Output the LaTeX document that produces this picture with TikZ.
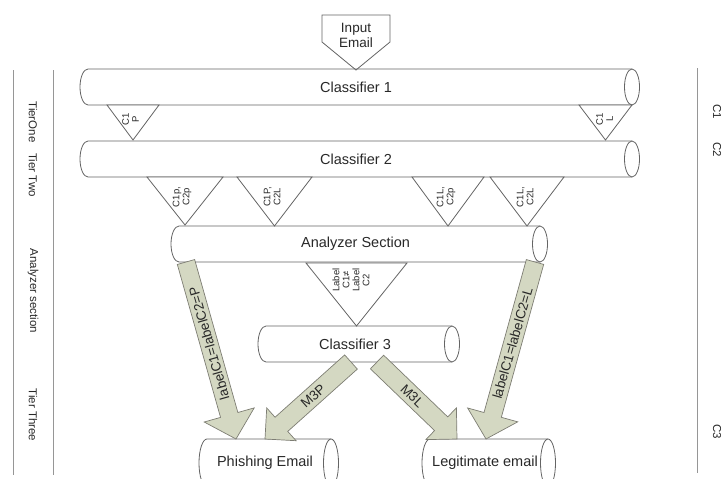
\documentclass[tikz,border=0pt]{standalone}
\usepackage{fontspec}
\setmainfont{Liberation Sans}
\usetikzlibrary{calc}

\definecolor{edge}{RGB}{100,100,100}
\definecolor{arrowfill}{RGB}{212,216,194}
\definecolor{arrowedge}{RGB}{125,125,115}
\definecolor{rulegray}{RGB}{150,150,150}
\definecolor{inkgray}{RGB}{40,40,40}

\tikzset{
  shapeline/.style={draw=edge, line width=0.8pt},
  cyltext/.style={font=\fontsize{14.5}{16}\selectfont, text=inkgray, inner sep=0pt},
  tritext/.style={font=\fontsize{9.5}{10}\selectfont, text=inkgray, rotate=90, align=center, inner sep=0pt},
  tiertext/.style={font=\fontsize{11.5}{13}\selectfont, text=inkgray, rotate=-90, inner sep=0pt},
  blockarrow/.style={draw=arrowedge, line width=0.7pt, fill=arrowfill, line join=miter},
  arrowtext/.style={font=\fontsize{13.5}{15}\selectfont, text=inkgray, inner sep=0pt},
  tierrule/.style={draw=rulegray, line width=0.8pt},
}

% horizontal cylinder: name, left x, x of the front ellipse, centre y, half height, text
% corner coordinates name-nw, name-ne, name-sw, name-se mark the body's straight edges
\newcommand\cylpart[6]{%
  \draw[shapeline] (#3,#4-#5) -- (#2+8,#4-#5)
    .. controls (#2+3.6,#4-#5) and (#2,#4-0.55*#5) .. (#2,#4)
    .. controls (#2,#4+0.55*#5) and (#2+3.6,#4+#5) .. (#2+8,#4+#5) -- (#3,#4+#5);
  \draw[shapeline, fill=white] (#3,#4) ellipse [x radius=7.5pt, y radius=#5pt];
  \coordinate (#1-nw) at (#2,#4-#5);
  \coordinate (#1-ne) at (#3,#4-#5);
  \coordinate (#1-sw) at (#2,#4+#5);
  \coordinate (#1-se) at (#3,#4+#5);
  \coordinate (#1-s) at ({(#2+#3)/2},#4+#5);
  \node[cyltext] (#1) at ({(#2+#3)/2},#4) {#6};
}

% downward triangle: name, left x, right x, top y, apex y, text centre, text
\newcommand\tripart[7]{%
  \draw[shapeline, fill=white] (#2,#4) -- (#3,#4) -- ({(#2+#3)/2},#5) -- cycle;
  \node[tritext] (#1) at (#6) {#7};
}

% block arrow: tail, tip, shaft half width, head half width, head length
\newcommand\blockarr[5]{%
  \coordinate (ba-neck) at ($(#2)!#5pt!(#1)$);
  \draw[blockarrow] ($(#1)!#3pt!90:(#2)$) -- ($(ba-neck)!#3pt!-90:(#1)$)
    -- ($(ba-neck)!#4pt!-90:(#1)$) -- (#2) -- ($(ba-neck)!#4pt!90:(#1)$)
    -- ($(ba-neck)!#3pt!90:(#1)$) -- ($(#1)!#3pt!-90:(#2)$) -- cycle;
}

\begin{document}
\begin{tikzpicture}[x=1pt, y=-1pt]
\useasboundingbox (0,0) rectangle (728,479);
\clip (0,0) rectangle (728,479);

% tier column on the left
\draw[tierrule] (13,70) coordinate (lrA) -- (13,475) coordinate (lrB);
\draw[tierrule] (53,70) coordinate (lrC) -- (53,475) coordinate (lrD);
\node[tiertext] (tier1) at (33,122) {TierOne};
\node[tiertext] (tier2) at (33,175) {Tier Two};
\node[tiertext] (tier3) at (33,291) {Analyzer section};
\node[tiertext] (tier4) at (33,415) {Tier Three};

% classifier column on the right
\draw[tierrule] (697,68) coordinate (rrA) -- (697,473) coordinate (rrB);
\node[tiertext] (cl1) at (717,112) {C1};
\node[tiertext] (cl2) at (717,150) {C2};
\node[tiertext] (cl3) at (717,432) {C3};

% input
\draw[shapeline, fill=white] (322,15) -- (390,15) -- (390,42) -- (356,70) -- (322,42) -- cycle;
\node[cyltext, align=center, font=\fontsize{13.5}{15}\selectfont] (input) at (356,35) {Input\\Email};

% cylinders
\cylpart{c1}{80}{632}{87}{18}{Classifier 1}
\cylpart{c2}{80}{632}{159}{18}{Classifier 2}
\cylpart{an}{171}{540}{244}{18}{Analyzer Section}
\cylpart{c3}{258}{452}{344}{18}{Classifier 3}
\cylpart{ph}{199}{331}{463}{24}{Phishing Email}
\cylpart{lg}{422}{548}{463}{24}{Legitimate email}

% decision triangles
\tripart{t1}{107}{159}{105}{140}{130.5,119}{C1\\P}
\tripart{t2}{579}{632}{105}{140}{604.5,119}{C1\\L}
\tripart{t3}{147}{223}{177}{225}{182,197}{C1p,\\C2p}
\tripart{t4}{237}{312}{177}{226}{272,197}{C1P,\\C2L}
\tripart{t5}{412}{484}{177}{226}{446,197}{C1L,\\C2p}
\tripart{t6}{490}{564}{177}{226}{525,197}{C1L,\\C2L}
\tripart{t7}{306}{407}{263}{326}{351,280}{Label\\C1≠\\Label\\C2}

% routing arrows
\coordinate (pa-tail) at ([xshift=15]an-sw);
\coordinate (pa-tip)  at ([xshift=37]ph-nw);
\coordinate (la-tail) at ([xshift=-5]an-se);
\coordinate (la-tip)  at ([xshift=64]lg-nw);
\coordinate (mp-tail) at ([xshift=-4]c3-s);
\coordinate (mp-tip)  at ([xshift=66]ph-nw);
\coordinate (ml-tail) at ([xshift=22]c3-s);
\coordinate (ml-tip)  at ([xshift=35]lg-nw);

\blockarr{pa-tail}{pa-tip}{9}{26}{25}
\blockarr{la-tail}{la-tip}{9}{26}{25}
\blockarr{mp-tail}{mp-tip}{9.5}{22}{22}
\blockarr{ml-tail}{ml-tip}{9.5}{22}{22}

\node[arrowtext, rotate=106] (pa-label) at ($(pa-tail)!0.46!(pa-tip)$) {labelC1=labelC2=P};
\node[arrowtext, rotate=74]  (la-label) at ($(la-tail)!0.46!(la-tip)$) {labelC1=labelC2=L};
\node[arrowtext, rotate=42]  (mp-label) at ($(mp-tail)!0.44!(mp-tip)$) {M3P};
\node[arrowtext, rotate=-44] (ml-label) at ($(ml-tail)!0.44!(ml-tip)$) {M3L};
\end{tikzpicture}
\end{document}
